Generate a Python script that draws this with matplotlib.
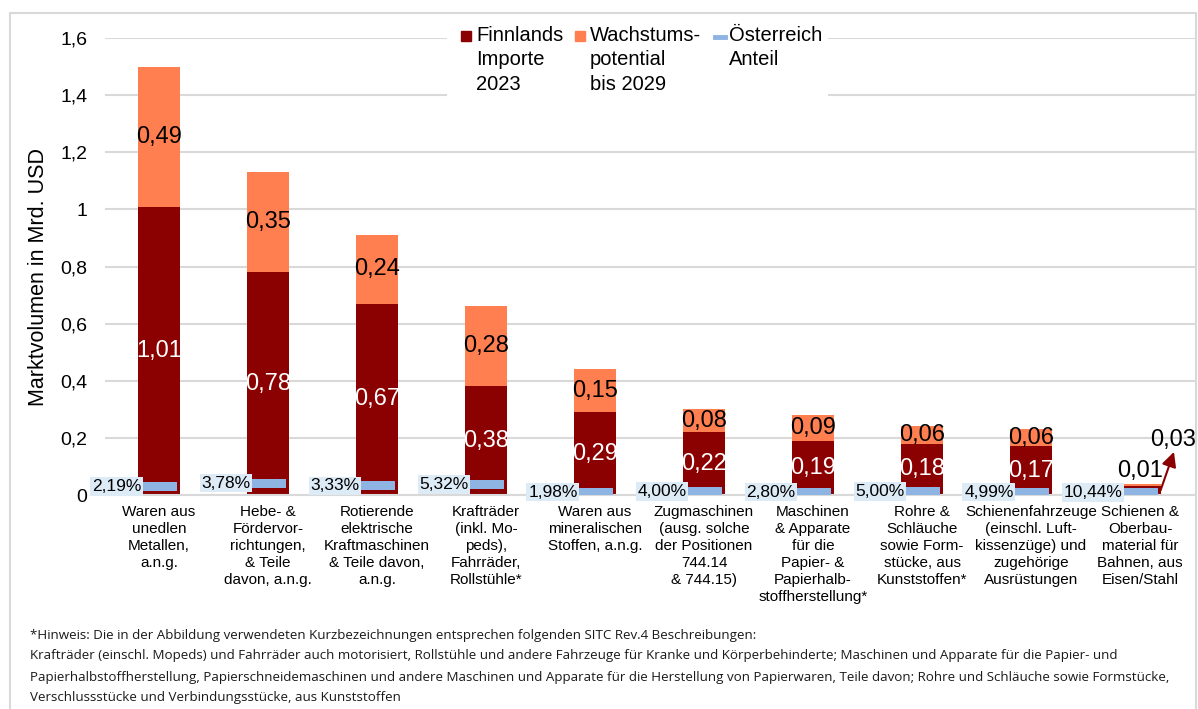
import numpy as np
import matplotlib
matplotlib.use("Agg")
import matplotlib.pyplot as plt
from matplotlib.patches import Rectangle
from matplotlib.lines import Line2D
from matplotlib import font_manager
from matplotlib.ticker import FuncFormatter

plt.rcParams['font.family'] = ['Liberation Sans', 'DejaVu Sans']

# data
kategorien = ["Waren aus\nunedlen\nMetallen,\na.n.g.",
              "Hebe- &\nFördervor-\nrichtungen,\n& Teile\ndavon, a.n.g.",
              "Rotierende\nelektrische\nKraftmaschinen\n& Teile davon,\na.n.g.",
              "Krafträder\n(inkl. Mo-\npeds),\nFahrräder,\nRollstühle*",
              "Waren aus\nmineralischen\nStoffen, a.n.g.",
              "Zugmaschinen\n(ausg. solche\nder Positionen\n744.14\n& 744.15)",
              "Maschinen\n& Apparate\nfür die\nPapier- &\nPapierhalb-\nstoffherstellung*",
              "Rohre &\nSchläuche\nsowie Form-\nstücke, aus\nKunststoffen*",
              "Schienenfahrzeuge\n(einschl. Luft-\nkissenzüge) und\nzugehörige\nAusrüstungen",
              "Schienen &\nOberbau-\nmaterial für\nBahnen, aus\nEisen/Stahl"]
importe = [1.01, 0.78, 0.67, 0.38, 0.29, 0.22, 0.19, 0.18, 0.17, 0.03]
potential = [0.49, 0.35, 0.24, 0.28, 0.15, 0.08, 0.09, 0.06, 0.06, 0.01]
anteil_txt = ["2,19%", "3,78%", "3,33%", "5,32%", "1,98%", "4,00%", "2,80%", "5,00%", "4,99%", "10,44%"]
# height at which the Austria markers sit
anteil_pos = [0.030, 0.042, 0.032, 0.036, 0.010, 0.013, 0.010, 0.012, 0.010, 0.008]

ROT = '#8B0000'
ORANGE = '#FF7F50'
BLAU = '#8DB4E2'
GRID = '#D9D9D9'

fig = plt.figure(figsize=(11.98, 7.09), dpi=100)
ax = fig.add_axes([104.5/1198, 214/709, 1090/1198, 457/709])

x = np.arange(len(importe))
w = 0.385
ax.bar(x, importe, w, color=ROT, zorder=2)
ax.bar(x, potential, w, bottom=importe, color=ORANGE, zorder=2)
ax.bar(x, [0.0315]*len(x), 0.33, bottom=np.array(anteil_pos) - 0.016, color=BLAU, zorder=3)

for i in range(len(x)):
    if i < 9:
        ax.text(x[i], importe[i]/2, f"{importe[i]:.2f}".replace('.', ','), ha='center', va='center',
                color='white', fontsize=17, zorder=4)
        ax.text(x[i], importe[i] + potential[i]/2, f"{potential[i]:.2f}".replace('.', ','), ha='center',
                va='center', color='black', fontsize=17, zorder=4)
    ax.text(x[i] - 0.16, anteil_pos[i], anteil_txt[i], ha='right', va='center', fontsize=12.5, zorder=5,
            bbox=dict(facecolor='#DDEBF7', edgecolor='none', pad=1.2), clip_on=False)

# last bar: labels outside
ax.text(x[9], 0.085, "0,01", ha='center', va='center', fontsize=17, zorder=4)
ax.annotate('', xy=(9.32, 0.16), xytext=(9.18, 0.007),
            arrowprops=dict(arrowstyle='-|>', color=ROT, lw=1.5, mutation_scale=22), zorder=4)
ax.text(9.305, 0.193, "0,03", ha='center', va='center', fontsize=17, zorder=4, clip_on=False)

ax.set_xlim(-0.5, 9.5)
ax.set_ylim(0, 1.6)
ax.set_yticks(np.arange(0, 1.61, 0.2))
ax.yaxis.set_major_formatter(FuncFormatter(lambda v, p: f"{v:g}".replace('.', ',')))
ax.tick_params(axis='y', length=0, labelsize=14, pad=12.5)
ax.set_xticks(x)
ax.set_xticklabels(kategorien, fontsize=11, linespacing=1.27)
ax.tick_params(axis='x', length=0, pad=7.5)
ax.grid(axis='y', color=GRID, lw=1.5, zorder=0)
for s in ['top', 'right', 'left']:
    ax.spines[s].set_visible(False)
ax.spines['bottom'].set_color(GRID)
ax.spines['bottom'].set_linewidth(1.5)
ax.set_ylabel("Marktvolumen in Mrd. USD", fontsize=15.5)
ax.yaxis.set_label_coords(-(104.5 - 49)/1090, (495 - 277)/457)

# legend drawn by hand
fig.patches.append(Rectangle((447/1198, 1 - 98/709), 381/1198, 80/709, transform=fig.transFigure,
                             facecolor='white', edgecolor='none', zorder=5))
leg = [(462, ROT, 's', "Finnlands\nImporte\n2023"),
       (576, ORANGE, 's', "Wachstums-\npotential\nbis 2029"),
       (715, BLAU, '_', "Österreich\nAnteil")]
for px, col, mk, lab in leg:
    if mk == 's':
        fig.add_artist(Line2D([(px + 4)/1198], [1 - 36/709], marker='s', markersize=7.5, color=col,
                              linestyle='none', transform=fig.transFigure, zorder=6))
    else:
        fig.add_artist(Line2D([px/1198, (px + 10)/1198], [1 - 37/709, 1 - 37/709], color=col, lw=3.5,
                              transform=fig.transFigure, zorder=6))
    fig.text((px + 14)/1198, 1 - 26/709, lab, ha='left', va='top', fontsize=14.5, linespacing=1.36, zorder=7)

# outer frame
fig.patches.append(Rectangle((10/1198, -0.02), 1186/1198, 1 - 13/709 + 0.02, transform=fig.transFigure,
                             facecolor='none', edgecolor=GRID, lw=1.5, zorder=0))

# footnote
names = {f.name for f in font_manager.fontManager.ttflist}
fam = 'Liberation Sans Narrow' if 'Liberation Sans Narrow' in names else 'Open Sans'
hinweis = ["*Hinweis: Die in der Abbildung verwendeten Kurzbezeichnungen entsprechen folgenden SITC Rev.4 Beschreibungen:",
           "Krafträder (einschl. Mopeds) und Fahrräder auch motorisiert, Rollstühle und andere Fahrzeuge für Kranke und Körperbehinderte; Maschinen und Apparate für die Papier- und",
           "Papierhalbstoffherstellung, Papierschneidemaschinen und andere Maschinen und Apparate für die Herstellung von Papierwaren, Teile davon; Rohre und Schläuche sowie Formstücke,",
           "Verschlussstücke und Verbindungsstücke, aus Kunststoffen"]
ys = [636, 656, 677, 697]
probe = fig.text(0, 0, hinweis[2], fontsize=10, family=fam)
fig.canvas.draw()
breite = probe.get_window_extent().width
probe.remove()
fs = 10 * 1138 / breite
for t, yy in zip(hinweis, ys):
    fig.text(30/1198, 1 - yy/709, t, ha='left', va='center', fontsize=fs, family=fam, color='#1a1a1a')

fig.savefig("out.png", dpi=100)
